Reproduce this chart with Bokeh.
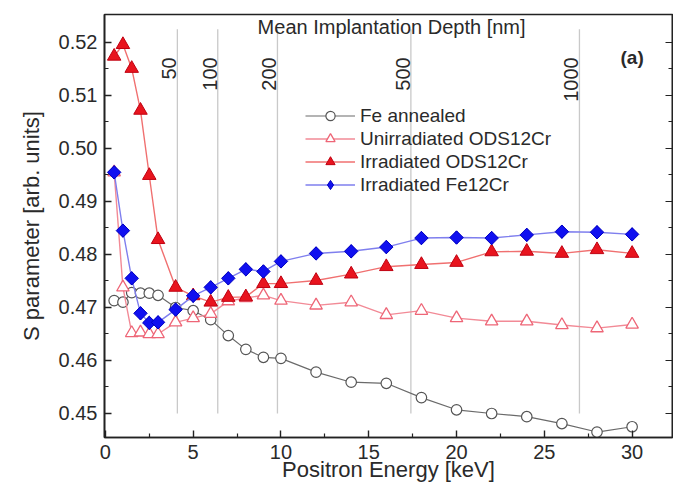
import numpy as np
from bokeh.plotting import figure
from bokeh.models import (Range1d, LinearAxis, Legend, LegendItem, Label,
                          ColumnDataSource, Segment, FixedTicker, CustomJSTickFormatter)
from bokeh.core.properties import value
from bokeh.embed import file_html
from bokeh.resources import INLINE

# ---------------- data ----------------
energy = [0.5, 1, 1.5, 2, 2.5, 3, 4, 5, 6, 7, 8, 9, 10, 12, 14, 16, 18, 20, 22, 24, 26, 28, 30]

fe_annealed = [0.4713, 0.4710, 0.4728, 0.4727, 0.4727, 0.4723, 0.4700, 0.4694, 0.4677, 0.4647,
               0.4621, 0.4606, 0.4604, 0.4578, 0.4559, 0.4557, 0.4530, 0.4507, 0.4500, 0.4494,
               0.4481, 0.4465, 0.4475]
unirr_ods12cr = [0.4955, 0.4738, 0.4652, 0.4653, 0.4650, 0.4650, 0.4672, 0.4680, 0.4688, 0.4712,
                 0.4718, 0.4723, 0.4713, 0.4704, 0.4710, 0.4686, 0.4694, 0.4680, 0.4674, 0.4674,
                 0.4667, 0.4661, 0.4668]
irr_ods12cr = [0.5174, 0.5196, 0.5151, 0.5072, 0.4949, 0.4828, 0.4738, 0.4722, 0.4710, 0.4719,
               0.4720, 0.4745, 0.4745, 0.4751, 0.4763, 0.4777, 0.4781, 0.4785, 0.4805, 0.4806,
               0.4802, 0.4809, 0.4802]
irr_fe12cr = [0.4955, 0.4845, 0.4755, 0.4689, 0.4671, 0.4672, 0.4696, 0.4722, 0.4738, 0.4755,
              0.4772, 0.4768, 0.4787, 0.4802, 0.4806, 0.4814, 0.4831, 0.4832, 0.4831, 0.4837,
              0.4843, 0.4842, 0.4838]

depth_labels = ["50", "100", "200", "500", "1000"]
depth_energy = [4.1, 6.4, 9.8, 17.4, 27.0]

x_ticks = [0, 5, 10, 15, 20, 25, 30]
x_minor = [2.5, 7.5, 12.5, 17.5, 22.5, 27.5]
y_ticks = [0.45, 0.46, 0.47, 0.48, 0.49, 0.50, 0.51, 0.52]
y_minor = [0.455, 0.465, 0.475, 0.485, 0.495, 0.505, 0.515]

FONT = "Liberation Sans"
TXT = "#2a2a2a"
AX = "#222222"
Y0, Y1 = 0.44547, 0.52528

p = figure(width=673, height=488, output_backend="svg", toolbar_location=None,
           x_range=Range1d(-0.05, 32.3), y_range=Range1d(Y0, Y1),
           min_border_left=104, min_border_right=1, min_border_top=14, min_border_bottom=51)
p.background_fill_color = "white"
p.grid.visible = False
p.outline_line_color = AX
p.outline_line_width = 1.6

# vertical depth markers
src_v = ColumnDataSource(dict(x=depth_energy, y0=[0.4500] * len(depth_energy),
                              y1=[0.5225] * len(depth_energy)))
p.add_glyph(src_v, Segment(x0="x", y0="y0", x1="x", y1="y1",
                           line_color="#c9c9c9", line_width=1.3))
p.text(x=depth_energy, y=[0.5172] * len(depth_energy), text=depth_labels,
       angle=np.pi / 2, text_align="right", text_baseline="bottom", x_offset=-1,
       text_font=value(FONT), text_font_size="20px", text_color=TXT)

p.add_layout(Label(x=16.3, y=0.5229, text="Mean Implantation Depth [nm]",
                   text_align="center", text_baseline="middle",
                   text_font=FONT, text_font_size="20px", text_color=TXT))
p.add_layout(Label(x=30.0, y=0.5172, text="(a)", text_align="center",
                   text_baseline="middle", text_font=FONT, text_font_size="19px",
                   text_font_style="bold", text_color=TXT))

# series
l1 = p.line(energy, fe_annealed, line_color="#6a6a6a", line_width=1.2)
m1 = p.scatter(energy, fe_annealed, marker="circle", size=10.5, fill_color="white",
               line_color="#555555", line_width=1.2)

l2 = p.line(energy, unirr_ods12cr, line_color="#f28a96", line_width=1.4)
m2 = p.scatter(energy, unirr_ods12cr, marker="triangle", size=12.5, fill_color="white",
               line_color="#ee6677", line_width=1.3)

l3 = p.line(energy, irr_ods12cr, line_color="#f07070", line_width=1.4)
m3 = p.scatter(energy, irr_ods12cr, marker="triangle", size=13.5, fill_color="#e8141e",
               line_color="#c00010", line_width=1.0)

l4 = p.line(energy, irr_fe12cr, line_color="#7f7fee", line_width=1.4)
# diamond used for the legend symbol (fully covered by the rotated squares below)
m4_leg = p.scatter(energy, irr_fe12cr, marker="diamond", size=13,
                   fill_color="#1010f0", line_color="#0000c0", line_width=1.0)
m4 = p.scatter(energy, irr_fe12cr, marker="square", angle=np.pi / 4, size=9.5,
               fill_color="#1010f0", line_color="#0000c0", line_width=1.0)

legend = Legend(items=[
    LegendItem(label="Fe annealed", renderers=[l1, m1]),
    LegendItem(label="Unirradiated ODS12Cr", renderers=[l2, m2]),
    LegendItem(label="Irradiated ODS12Cr", renderers=[l3, m3]),
    LegendItem(label="Irradiated Fe12Cr", renderers=[l4, m4_leg]),
], location=(201, 241))
legend.background_fill_alpha = 0
legend.border_line_alpha = 0
legend.padding = 0
legend.margin = 0
legend.spacing = 0
legend.glyph_width = 50
legend.glyph_height = 23
legend.label_height = 23
legend.label_standoff = 5
legend.label_text_font = FONT
legend.label_text_font_size = "19px"
legend.label_text_color = TXT
p.add_layout(legend, "center")

# axes styling
xa = p.xaxis[0]
xa.ticker = FixedTicker(ticks=x_ticks, minor_ticks=x_minor)
xa.axis_label = "Positron Energy [keV]"
ya = p.yaxis[0]
ya.ticker = FixedTicker(ticks=y_ticks, minor_ticks=y_minor)
ya.axis_label = "S parameter [arb. units]"
ya.formatter = CustomJSTickFormatter(code="return tick.toFixed(2);")

for ax in (xa, ya):
    ax.axis_line_color = AX
    ax.axis_line_width = 1.6
    ax.major_tick_in = 7
    ax.major_tick_out = 0
    ax.minor_tick_in = 4
    ax.minor_tick_out = 0
    ax.major_tick_line_color = AX
    ax.minor_tick_line_color = AX
    ax.major_tick_line_width = 1.4
    ax.minor_tick_line_width = 1.2
    ax.major_label_text_font = FONT
    ax.major_label_text_font_size = "20px"
    ax.major_label_text_color = TXT
    ax.axis_label_text_font = FONT
    ax.axis_label_text_font_size = "22px"
    ax.axis_label_text_font_style = "normal"
    ax.axis_label_text_color = TXT
xa.major_label_standoff = 7
xa.axis_label_standoff = -5
ya.major_label_standoff = 7
ya.axis_label_standoff = 12

ra = LinearAxis(ticker=FixedTicker(ticks=y_ticks, minor_ticks=y_minor),
                formatter=CustomJSTickFormatter(code="return '';"))
ra.major_label_standoff = 0
ra.axis_line_color = AX
ra.axis_line_width = 1.6
ra.major_tick_in = 7
ra.major_tick_out = 0
ra.minor_tick_in = 4
ra.minor_tick_out = 0
ra.major_tick_line_color = AX
ra.minor_tick_line_color = AX
p.add_layout(ra, "right")

open("out.html", "w").write(file_html(p, INLINE))
